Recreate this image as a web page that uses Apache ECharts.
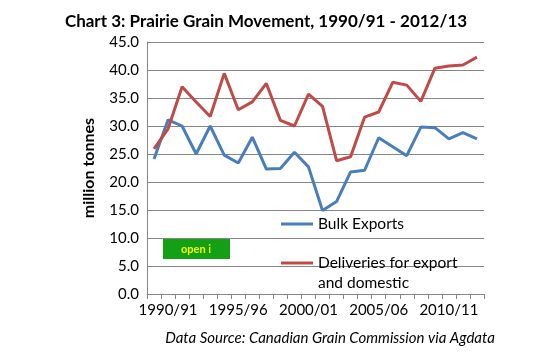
<!doctype html>
<html>
<head>
<meta charset="utf-8">
<title>Prairie Grain Movement</title>
<script src="https://cdn.jsdelivr.net/npm/echarts@6/dist/echarts.min.js"></script>
</head>
<body style="margin:0;background:#fff">
<div id="main" style="width:556px;height:354px;"></div>
<script type="text/javascript">
// crop years, 1989/90 .. 2012/13
var years = ['1989/90','1990/91','1991/92','1992/93','1993/94','1994/95','1995/96','1996/97',
  '1997/98','1998/99','1999/00','2000/01','2001/02','2002/03','2003/04','2004/05','2005/06',
  '2006/07','2007/08','2008/09','2009/10','2010/11','2011/12','2012/13'];

// million tonnes
var bulkExports = [24.1, 31.1, 30.0, 25.0, 30.0, 24.8, 23.4, 28.0, 22.3, 22.4, 25.3, 22.7,
  14.9, 16.5, 21.8, 22.1, 27.9, 26.3, 24.7, 29.8, 29.7, 27.7, 28.8, 27.7];
var deliveries = [25.9, 29.5, 37.0, 34.3, 31.7, 39.4, 32.9, 34.3, 37.6, 31.0, 30.0, 35.7,
  33.5, 23.8, 24.5, 31.6, 32.5, 37.8, 37.3, 34.4, 40.3, 40.7, 40.9, 42.3];

var font = 'Lato';

var myChart = echarts.init(document.getElementById('main'));

var option = {
    animation: false,
    title: {
        text: 'Chart 3: Prairie Grain Movement, 1990/91 - 2012/13',
        left: 261, top: 8, textAlign: 'center',
        textStyle: { fontFamily: font, fontWeight: 'bold', fontSize: 17, color: '#000' }
    },
    grid: { left: 147, right: 72, top: 42, bottom: 60 },
    legend: {
        orient: 'vertical',
        left: 281, top: 216,
        padding: 0,
        itemWidth: 32, itemHeight: 3,
        itemGap: 23,
        icon: 'rect',
        textStyle: { fontFamily: font, fontSize: 15.5, color: '#000' },
        data: ['Bulk Exports', 'Deliveries for export']
    },
    xAxis: {
        type: 'category',
        data: years,
        boundaryGap: true,
        axisLine: { lineStyle: { color: '#868686' } },
        axisTick: { show: true, interval: 0, length: 5, lineStyle: { color: '#868686' } },
        axisLabel: {
            interval: function (i) { return i % 5 === 1; },
            fontFamily: font, fontSize: 15, color: '#000', margin: 9
        }
    },
    yAxis: {
        type: 'value',
        min: 0, max: 45, interval: 5,
        name: 'million tonnes',
        nameLocation: 'middle',
        nameGap: 50,
        nameTextStyle: { fontFamily: font, fontWeight: 'bold', fontSize: 16, color: '#000' },
        axisLine: { show: true, lineStyle: { color: '#868686' } },
        axisTick: { show: false },
        splitLine: { lineStyle: { color: '#868686' } },
        axisLabel: {
            fontFamily: font, fontSize: 15, color: '#000', margin: 8,
            formatter: function (v) { return v.toFixed(1); }
        }
    },
    series: [
        {
            name: 'Bulk Exports', type: 'line', data: bulkExports,
            symbol: 'none', color: '#4A7EBB',
            lineStyle: { width: 3, color: '#4A7EBB' }
        },
        {
            name: 'Deliveries for export', type: 'line', data: deliveries,
            symbol: 'none', color: '#BE4B48',
            lineStyle: { width: 3, color: '#BE4B48' }
        }
    ],
    graphic: [
        {
            type: 'text', x: 318, y: 283,
            style: { text: 'and domestic', fontFamily: font, fontSize: 15.5, fill: '#000',
                verticalAlign: 'middle' }
        },
        {
            type: 'rect', shape: { x: 163, y: 239, width: 67, height: 20 },
            style: { fill: '#14A014' }
        },
        {
            type: 'text', x: 196, y: 249,
            style: { text: 'open i', fontFamily: font, fontWeight: 'bold', fontSize: 11, fill: '#F5F500',
                align: 'center', verticalAlign: 'middle' }
        },
        {
            type: 'text', x: 330, y: 338, style: {
                text: 'Data Source: Canadian Grain Commission via Agdata',
                fontFamily: font, fontStyle: 'italic', fontSize: 15, fill: '#000',
                align: 'center', verticalAlign: 'middle'
            }
        }
    ]
};

myChart.setOption(option);
</script>
</body>
</html>
